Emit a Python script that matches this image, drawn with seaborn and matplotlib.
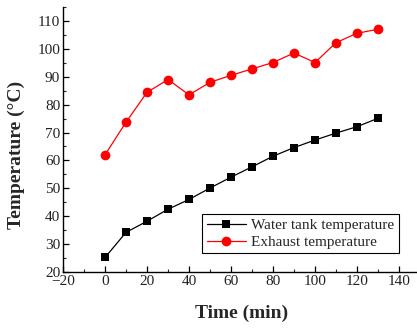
import matplotlib
matplotlib.use("Agg")
import matplotlib.pyplot as plt
from matplotlib.ticker import MultipleLocator
import seaborn as sns
import pandas as pd

time_min = [0, 10, 20, 30, 40, 50, 60, 70, 80, 90, 100, 110, 120, 130]
water_tank = [25.2, 34.2, 38.2, 42.5, 46.0, 50.1, 54.0, 57.7, 61.5, 64.6, 67.3, 69.8, 72.1, 75.1]
exhaust = [62.0, 73.7, 84.4, 89.0, 83.5, 88.0, 90.5, 92.8, 95.1, 98.5, 95.1, 102.2, 105.6, 107.0]
series_names = ["Water tank temperature", "Exhaust temperature"]

df = pd.DataFrame({
    "Time": time_min * 2,
    "Temperature": water_tank + exhaust,
    "Series": [series_names[0]] * len(time_min) + [series_names[1]] * len(time_min),
})

sns.set_theme(style="ticks")
plt.rcParams["font.family"] = ["Liberation Serif", "DejaVu Serif"]

fig = plt.figure(figsize=(4.17, 3.28), dpi=100)
ax = fig.add_axes([63 / 417, 56 / 328, 357 / 417, 265 / 328])

sns.lineplot(
    data=df, x="Time", y="Temperature", hue="Series", style="Series",
    palette={series_names[0]: "black", series_names[1]: "red"},
    markers={series_names[0]: "s", series_names[1]: "o"},
    dashes=False, markersize=6, linewidth=0.9, markeredgewidth=0,
    ax=ax,
)
# circles a touch larger than the squares
for line in ax.lines:
    if line.get_marker() == "o":
        line.set_markersize(7)

ax.set_xlim(-20, 150)
ax.set_ylim(20, 115)
ax.set_xticks([-20, 0, 20, 40, 60, 80, 100, 120, 140])
ax.xaxis.set_minor_locator(MultipleLocator(10))
ax.yaxis.set_major_locator(MultipleLocator(10))
ax.yaxis.set_minor_locator(MultipleLocator(5))
ax.tick_params(which="major", direction="in", length=4, width=0.9, labelsize=11, colors="black", pad=2)
ax.tick_params(which="minor", direction="in", length=2, width=0.8)
for lbl in ax.get_xticklabels() + ax.get_yticklabels():
    lbl.set_color("#222222")

for s in ["top", "right"]:
    ax.spines[s].set_visible(False)
for s in ["left", "bottom"]:
    ax.spines[s].set_linewidth(1.0)
    ax.spines[s].set_color("black")

ax.set_xlabel("Time (min)", fontsize=14, fontweight="bold", labelpad=12)
ax.set_ylabel("Temperature (°C)", fontsize=14, fontweight="bold")
ax.yaxis.set_label_coords(-0.107, 0.44)

leg = ax.legend(loc="lower right", bbox_to_anchor=(0.94, 0.07), fontsize=11,
                frameon=True, fancybox=False, edgecolor="black", framealpha=1,
                handlelength=2.6, handletextpad=0.3, borderpad=0.3, labelspacing=0.2,
                borderaxespad=0)
leg.get_frame().set_linewidth(0.8)

fig.savefig("out.png", dpi=100)
